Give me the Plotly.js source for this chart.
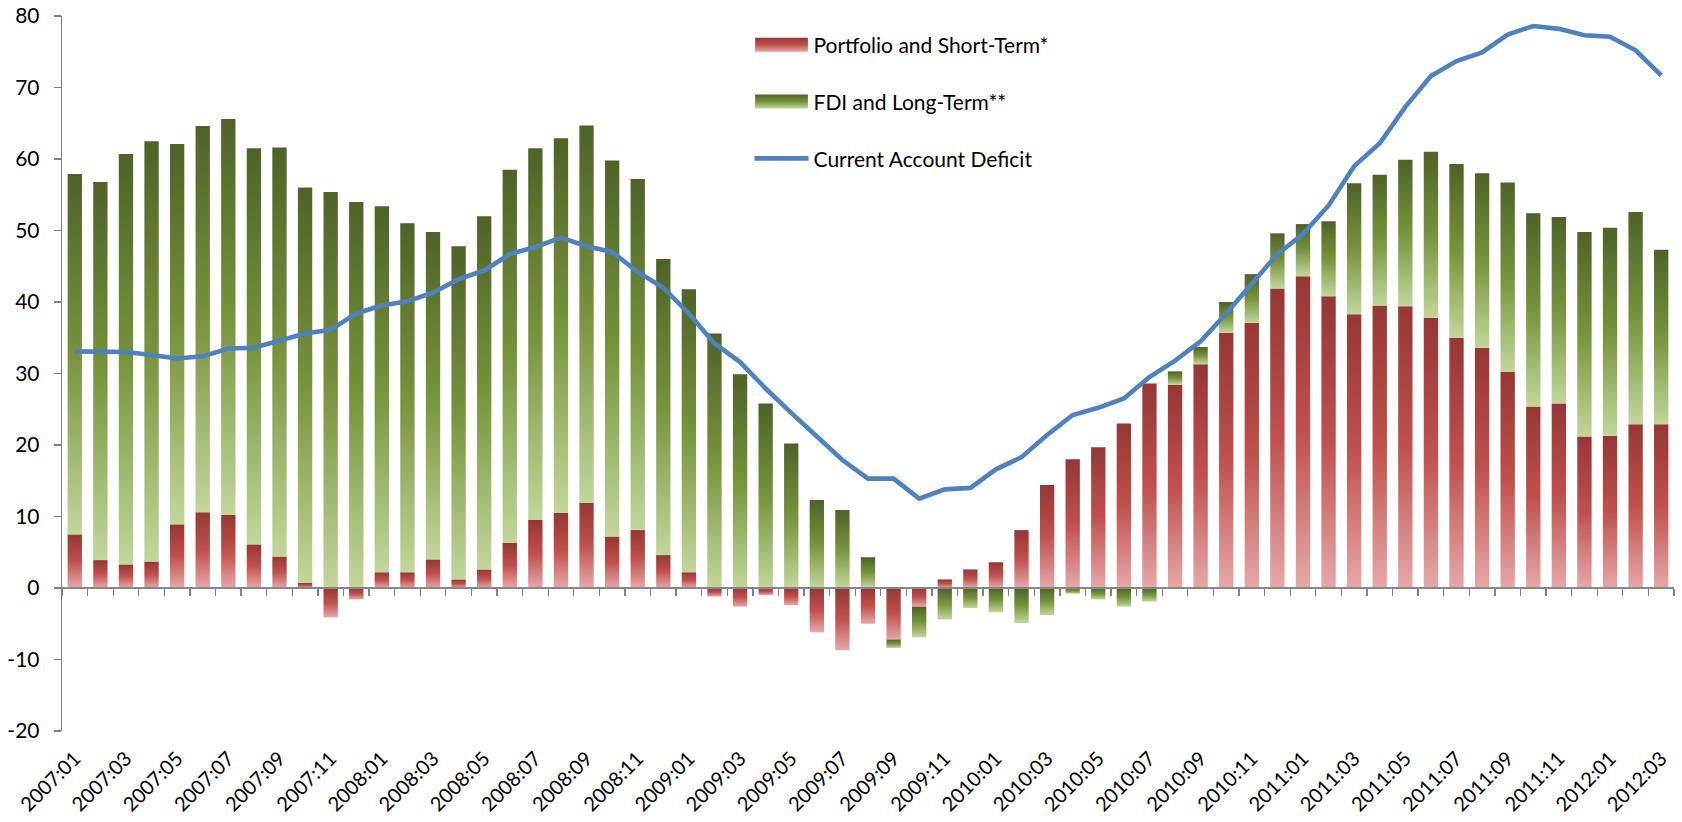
<!DOCTYPE html>
<html>
<head>
<meta charset="utf-8">
<script src="https://cdn.plot.ly/plotly-3.0.1.min.js"></script>
<style>
html, body { margin: 0; padding: 0; background: #fff; }
#chart { width: 1682px; height: 822px; }
</style>
</head>
<body>
<div id="chart"></div>
<script>
const months = ["2007:01","2007:02","2007:03","2007:04","2007:05","2007:06","2007:07","2007:08","2007:09","2007:10","2007:11","2007:12",
"2008:01","2008:02","2008:03","2008:04","2008:05","2008:06","2008:07","2008:08","2008:09","2008:10","2008:11","2008:12",
"2009:01","2009:02","2009:03","2009:04","2009:05","2009:06","2009:07","2009:08","2009:09","2009:10","2009:11","2009:12",
"2010:01","2010:02","2010:03","2010:04","2010:05","2010:06","2010:07","2010:08","2010:09","2010:10","2010:11","2010:12",
"2011:01","2011:02","2011:03","2011:04","2011:05","2011:06","2011:07","2011:08","2011:09","2011:10","2011:11","2011:12",
"2012:01","2012:02","2012:03"];

const portfolioShortTerm = [7.5,3.9,3.3,3.7,8.9,10.6,10.2,6.1,4.4,0.7,-4.1,-1.6,
2.2,2.2,4.0,1.2,2.6,6.3,9.5,10.5,11.9,7.2,8.1,4.6,
2.2,-1.2,-2.6,-1.0,-2.4,-6.2,-8.7,-5.0,-7.2,-2.6,1.2,2.6,
3.6,8.1,14.4,18.0,19.7,23.0,28.6,28.4,31.3,35.7,37.1,41.9,
43.6,40.8,38.3,39.5,39.4,37.8,35.0,33.6,30.2,25.4,25.8,21.2,
21.3,22.9,22.9];

const fdiLongTerm = [50.4,52.9,57.4,58.8,53.2,54.0,55.4,55.4,57.2,55.3,55.4,54.0,
51.2,48.8,45.8,46.6,49.4,52.2,52.0,52.4,52.8,52.6,49.1,41.4,
39.6,35.6,29.9,25.8,20.2,12.3,10.9,4.3,-1.2,-4.3,-4.4,-2.8,
-3.4,-4.9,-3.8,-0.8,-1.6,-2.6,-1.9,1.9,2.4,4.3,6.8,7.7,
7.3,10.5,18.3,18.3,20.5,23.2,24.3,24.4,26.5,27.0,26.1,28.6,
29.1,29.7,24.4];

const currentAccountDeficit = [33.1,33.0,33.0,32.6,32.1,32.4,33.5,33.6,34.6,35.6,36.1,38.4,
39.5,40.1,41.3,43.2,44.4,46.7,47.7,49.0,47.8,47.0,44.2,42.0,
38.4,34.2,31.6,27.9,24.5,21.1,17.9,15.3,15.3,12.5,13.8,14.0,
16.6,18.3,21.4,24.2,25.2,26.5,29.5,31.8,34.5,38.4,42.6,46.7,
49.5,53.5,59.0,62.2,67.3,71.6,73.7,74.9,77.4,78.6,78.2,77.3,
77.1,75.2,71.7];

const seriesNames = ["Portfolio and Short-Term*", "FDI and Long-Term**", "Current Account Deficit"];
const xTickLabels = months.filter((m, i) => i % 2 === 0);
const yTickValues = [-20,-10,0,10,20,30,40,50,60,70,80];
const yTickLabels = ["-20","-10","0","10","20","30","40","50","60","70","80"];

const FONT = "Lato, 'Open Sans', 'DejaVu Sans', sans-serif";

const data = [
  { type: "bar", name: seriesNames[0], x: months, y: portfolioShortTerm,
    marker: { color: "#b9474a", line: { width: 0 } }, legendgroup: "a" },
  { type: "bar", name: seriesNames[1], x: months, y: fdiLongTerm,
    marker: { color: "#77933c", line: { width: 0 } }, legendgroup: "b" },
  { type: "scatter", mode: "lines", name: seriesNames[2], x: months, y: currentAccountDeficit,
    line: { color: "#4f81bd", width: 4.6 }, legendgroup: "c" },
  { type: "scatter", x: [], y: [], xaxis: "x2", showlegend: false, hoverinfo: "skip" }
];

const layout = {
  width: 1682, height: 822,
  margin: { l: 62, r: 8, t: 15.5, b: 91 },
  paper_bgcolor: "#ffffff", plot_bgcolor: "#ffffff",
  font: { family: FONT, size: 21, color: "#000000" },
  barmode: "relative",
  bargap: 0.44,
  showlegend: true,
  legend: {
    x: 0.4265, y: 0.988, xanchor: "left", yanchor: "top",
    traceorder: "grouped", tracegroupgap: 26.5,
    itemwidth: 54,
    font: { family: FONT, size: 21, color: "#000000" },
    bgcolor: "rgba(0,0,0,0)"
  },
  xaxis: {
    type: "category", categoryorder: "array", categoryarray: months,
    range: [-0.5, 62.5],
    tickmode: "array", tickvals: xTickLabels, ticktext: xTickLabels,
    tickangle: -45, ticks: "", showline: false, showgrid: false, zeroline: false,
    ticklabelstandoff: 11,
    tickfont: { family: FONT, size: 20, color: "#000000" }
  },
  xaxis2: {
    overlaying: "x", anchor: "free", position: 0.2, side: "bottom",
    type: "linear", range: [-0.5, 62.5],
    tickmode: "linear", tick0: -0.5, dtick: 1,
    ticks: "outside", ticklen: 7, tickwidth: 1.3, tickcolor: "#7f7f7f",
    showticklabels: false, showgrid: false, zeroline: false,
    showline: true, linecolor: "#868686", linewidth: 2
  },
  yaxis: {
    range: [-20, 80],
    tickmode: "array", tickvals: yTickValues, ticktext: yTickLabels,
    ticks: "outside", ticklen: 7, tickwidth: 1.3, tickcolor: "#7f7f7f",
    showline: true, linecolor: "#7f7f7f", linewidth: 1.3,
    showgrid: false, zeroline: false,
    ticklabelstandoff: 10,
    tickfont: { family: FONT, size: 21, color: "#000000" }
  }
};

function addGradient(defs, id, stops) {
  const ns = "http://www.w3.org/2000/svg";
  const g = document.createElementNS(ns, "linearGradient");
  g.setAttribute("id", id);
  g.setAttribute("x1", "0"); g.setAttribute("y1", "0");
  g.setAttribute("x2", "0"); g.setAttribute("y2", "1");
  stops.forEach(s => {
    const st = document.createElementNS(ns, "stop");
    st.setAttribute("offset", s[0]);
    st.setAttribute("stop-color", s[1]);
    g.appendChild(st);
  });
  defs.appendChild(g);
}

Plotly.newPlot("chart", data, layout, { staticPlot: true, displayModeBar: false }).then(gd => {
  const ns = "http://www.w3.org/2000/svg";
  const svg = gd.querySelector("svg.main-svg");
  let defs = svg.querySelector("defs");
  if (!defs) { defs = document.createElementNS(ns, "defs"); svg.insertBefore(defs, svg.firstChild); }
  addGradient(defs, "gradRed", [["0", "#953735"], ["0.5", "#c0504d"], ["1", "#e6a8a8"]]);
  addGradient(defs, "gradGreen", [["0", "#4f6228"], ["0.5", "#77933c"], ["1", "#c3d69b"]]);
  const fills = ["url(#gradRed)", "url(#gradGreen)"];
  const barTraces = gd.querySelectorAll(".barlayer .trace");
  barTraces.forEach((t, i) => {
    t.querySelectorAll("path").forEach(p => { p.style.fill = fills[i]; });
  });
  const legendItems = gd.querySelectorAll(".legend .traces");
  legendItems.forEach((t, i) => {
    if (i < 2) {
      t.querySelectorAll(".legendpoints path").forEach(p => {
        p.style.fill = fills[i];
        const tr = p.getAttribute("transform") || "";
        p.setAttribute("transform", tr + " scale(4.4,1.17)");
      });
    }
  });
});
</script>
</body>
</html>
